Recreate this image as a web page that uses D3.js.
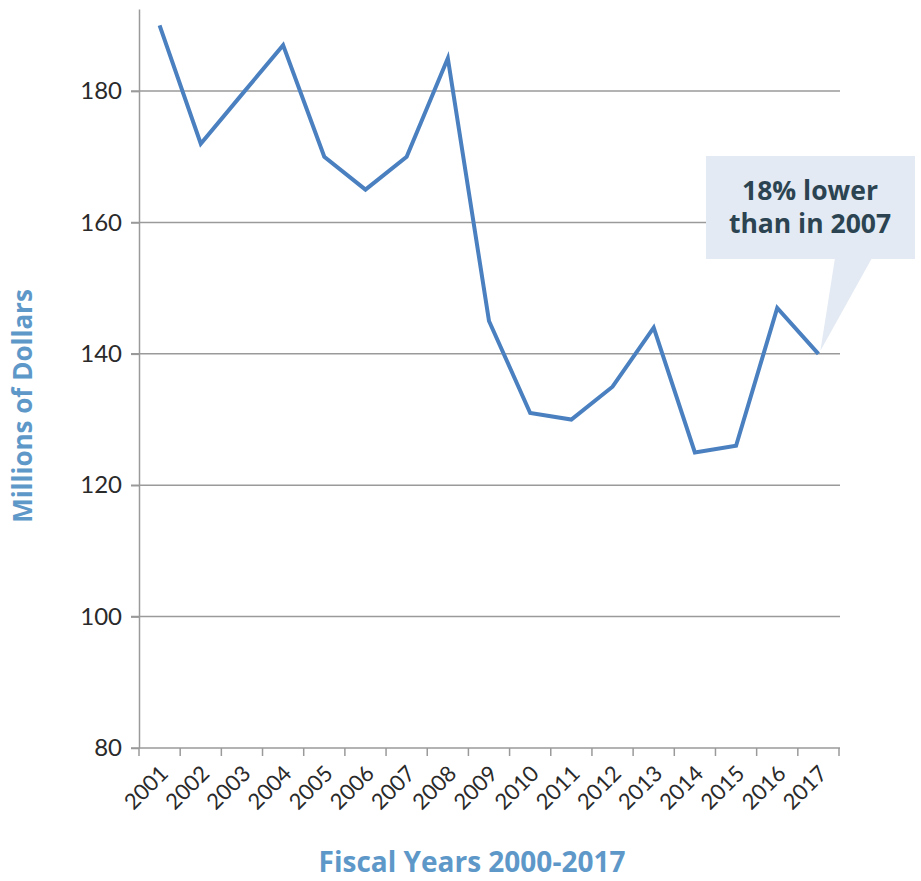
<!DOCTYPE html>
<html>
<head>
<meta charset="utf-8">
<script src="https://cdn.jsdelivr.net/npm/d3@7"></script>
<style>
  body { margin: 0; background: #fff; }
  svg { display: block; }
  text { font-family: Lato, "Open Sans", sans-serif; }
</style>
</head>
<body>
<div id="chart"></div>
<script>
// values (millions of dollars)
const years = ["2001","2002","2003","2004","2005","2006","2007","2008","2009",
               "2010","2011","2012","2013","2014","2015","2016","2017"];
const spending = [190, 172, 179.5, 187, 170, 165, 170, 185, 145,
                  131, 130, 135, 144, 125, 126, 147, 140];
const yTicks = [80, 100, 120, 140, 160, 180];
const calloutLines = ["18% lower", "than in 2007"];

const width = 921, height = 881;
const svg = d3.select("#chart").append("svg")
    .attr("width", width)
    .attr("height", height);

const x = d3.scaleBand().domain(years).range([139, 839]).padding(0);
const y = d3.scaleLinear().domain([80, 192.5]).range([748, 9]);

// gridlines
svg.append("g")
    .selectAll("line")
    .data(yTicks.slice(1))
    .enter().append("line")
    .attr("x1", 131).attr("x2", 840)
    .attr("y1", d => y(d)).attr("y2", d => y(d))
    .attr("stroke", "#9a9a9a")
    .attr("stroke-width", 1.5);

// y axis
const yAxis = svg.append("g")
    .attr("transform", "translate(139,0)")
    .call(d3.axisLeft(y).tickValues(yTicks).tickSize(8).tickSizeOuter(0).tickPadding(9));
yAxis.select(".domain").attr("stroke", "#9a9a9a").attr("stroke-width", 1.5);
yAxis.selectAll(".tick line").attr("stroke", "#9a9a9a").attr("stroke-width", 1.5);
yAxis.selectAll(".tick text")
    .attr("fill", "#2a2a2a")
    .style("font-size", "24px")
    .style("font-family", "Lato, sans-serif");

// x axis
const xAxis = svg.append("g")
    .attr("transform", "translate(0,748)")
    .call(d3.axisBottom(x).tickSize(0).tickSizeOuter(0));
xAxis.select(".domain").attr("d", "M131,0H840").attr("stroke", "#9a9a9a").attr("stroke-width", 1.5);
xAxis.selectAll(".tick text")
    .attr("fill", "#2a2a2a")
    .attr("text-anchor", "end")
    .attr("dy", null)
    .attr("y", 0)
    .attr("transform", "translate(10,27) rotate(-45)")
    .style("font-size", "22px")
    .style("font-family", "Lato, sans-serif");

// tick marks at band edges
const edges = years.map(d => x(d)).concat([x.range()[1]]);
xAxis.append("g")
    .selectAll("line")
    .data(edges)
    .enter().append("line")
    .attr("x1", d => d).attr("x2", d => d)
    .attr("y1", 0).attr("y2", 8)
    .attr("stroke", "#9a9a9a")
    .attr("stroke-width", 1.5);

// the line
const line = d3.line()
    .x((d, i) => x(years[i]) + x.bandwidth() / 2)
    .y(d => y(d));

svg.append("path")
    .datum(spending)
    .attr("fill", "none")
    .attr("stroke", "#4a80c0")
    .attr("stroke-width", 4)
    .attr("stroke-linejoin", "miter")
    .attr("d", line);

// callout
const last = years.length - 1;
const px = x(years[last]) + x.bandwidth() / 2, py = y(spending[last]);
const callout = svg.append("g");
callout.append("rect")
    .attr("x", 706).attr("y", 156)
    .attr("width", 209).attr("height", 103)
    .attr("fill", "#e3eaf3");
callout.append("path")
    .attr("d", "M835,258L872,258L" + (px + 2) + "," + (py - 3) + "Z")
    .attr("fill", "#e3eaf3");
callout.selectAll("text")
    .data(calloutLines)
    .enter().append("text")
    .attr("x", 810)
    .attr("y", (d, i) => 200 + i * 33)
    .attr("text-anchor", "middle")
    .attr("fill", "#2c4452")
    .style("font-family", "'Open Sans', sans-serif")
    .style("font-size", "26.5px")
    .style("font-weight", "bold")
    .text(d => d);

// axis titles
svg.append("text")
    .attr("x", 472).attr("y", 872)
    .attr("text-anchor", "middle")
    .attr("fill", "#5e98c9")
    .style("font-family", "'Open Sans', sans-serif")
    .style("font-size", "28px")
    .style("font-weight", "bold")
    .text("Fiscal Years 2000-2017");

svg.append("text")
    .attr("transform", "translate(32,406) rotate(-90)")
    .attr("text-anchor", "middle")
    .attr("fill", "#5e98c9")
    .style("font-family", "'Open Sans', sans-serif")
    .style("font-size", "26px")
    .style("font-weight", "bold")
    .text("Millions of Dollars");
</script>
</body>
</html>
